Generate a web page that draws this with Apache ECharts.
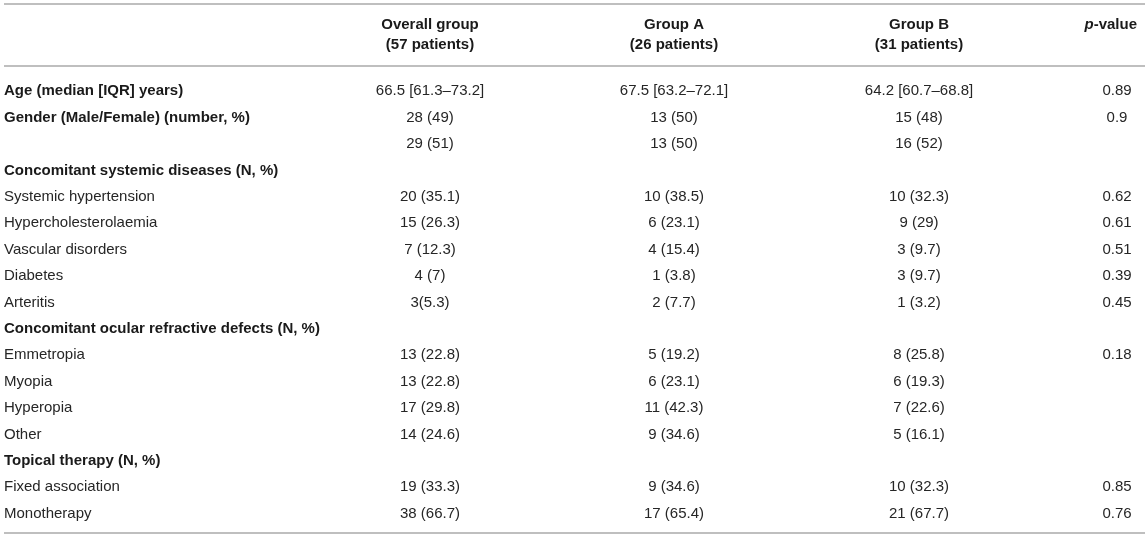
<!DOCTYPE html>
<html>
<head>
<meta charset="utf-8">
<script src="https://cdn.jsdelivr.net/npm/echarts@6/dist/echarts.min.js"></script>
<style>
  html, body { margin: 0; padding: 0; background: #fff; }
  #main { width: 1145px; height: 537px; }
</style>
</head>
<body>
<div id="main"></div>
<script>
// table contents
var rowLabels = [
    'Age (median [IQR] years)',
    'Gender (Male/Female) (number, %)',
    ' ',
    'Concomitant systemic diseases (N, %)',
    'Systemic hypertension',
    'Hypercholesterolaemia',
    'Vascular disorders',
    'Diabetes',
    'Arteritis',
    'Concomitant ocular refractive defects (N, %)',
    'Emmetropia',
    'Myopia',
    'Hyperopia',
    'Other',
    'Topical therapy (N, %)',
    'Fixed association',
    'Monotherapy'
];
var boldRows = [0, 1, 3, 9, 14];

var headers = ['Overall group\n(57 patients)', 'Group A\n(26 patients)', 'Group B\n(31 patients)', 'p-value'];

var overall = ['66.5 [61.3–73.2]', '28 (49)', '29 (51)', '', '20 (35.1)', '15 (26.3)', '7 (12.3)', '4 (7)', '3(5.3)',
    '', '13 (22.8)', '13 (22.8)', '17 (29.8)', '14 (24.6)', '', '19 (33.3)', '38 (66.7)'];
var groupA = ['67.5 [63.2–72.1]', '13 (50)', '13 (50)', '', '10 (38.5)', '6 (23.1)', '4 (15.4)', '1 (3.8)', '2 (7.7)',
    '', '5 (19.2)', '6 (23.1)', '11 (42.3)', '9 (34.6)', '', '9 (34.6)', '17 (65.4)'];
var groupB = ['64.2 [60.7–68.8]', '15 (48)', '16 (52)', '', '10 (32.3)', '9 (29)', '3 (9.7)', '3 (9.7)', '1 (3.2)',
    '', '8 (25.8)', '6 (19.3)', '7 (22.6)', '5 (16.1)', '', '10 (32.3)', '21 (67.7)'];
var pValues = ['0.89', '0.9', '', '', '0.62', '0.61', '0.51', '0.39', '0.45',
    '', '0.18', '', '', '', '', '0.85', '0.76'];

// layout: column centres on a 0..1145 x scale
var colX = [430, 674, 919, 1117];
var font = '"Liberation Sans", Arial, Helvetica, sans-serif';
var textColor = '#262626';
var boldColor = '#1a1a1a';

function cells(values, x) {
    var out = [];
    for (var i = 0; i < values.length; i++) {
        if (values[i] !== '') out.push({ name: values[i], value: [x, i] });
    }
    return out;
}

function colSeries(name, values, x) {
    return {
        name: name,
        type: 'scatter',
        symbolSize: 0,
        silent: true,
        itemStyle: { opacity: 1 },
        data: cells(values, x),
        label: {
            show: true,
            position: 'inside',
            formatter: '{b}',
            fontFamily: font,
            fontSize: 15,
            color: textColor
        }
    };
}

function headText(i) {
    return {
        type: 'text', x: colX[i], y: 35,
        style: { text: headers[i], font: 'bold 15px ' + font, fill: boldColor, align: 'center', verticalAlign: 'middle', lineHeight: 20 }
    };
}

function rule(y) {
    return { type: 'line', shape: { x1: 4, y1: y, x2: 1145, y2: y }, style: { stroke: '#aaa', lineWidth: 1.5 } };
}

var myChart = echarts.init(document.getElementById('main'));
myChart.setOption({
    animation: false,
    backgroundColor: '#fff',
    grid: { left: 0, right: 0, top: 78, bottom: 10.2 },
    xAxis: { type: 'value', min: 0, max: 1145, show: false },
    yAxis: {
        type: 'category',
        inverse: true,
        data: rowLabels,
        axisLine: { show: false },
        axisTick: { show: false },
        splitLine: { show: false },
        axisLabel: {
            interval: 0,
            align: 'left',
            margin: -4,
            fontFamily: font,
            fontSize: 15,
            formatter: function (value, index) {
                return boldRows.indexOf(index) >= 0 ? '{b|' + value + '}' : '{n|' + value + '}';
            },
            rich: {
                b: { fontFamily: font, fontSize: 15, fontWeight: 'bold', color: boldColor },
                n: { fontFamily: font, fontSize: 15, color: textColor }
            }
        }
    },
    graphic: [
        rule(4),
        rule(66),
        rule(533),
        headText(0),
        headText(1),
        headText(2),
        {
            type: 'text', x: 1137, y: 25,
            style: {
                text: '{i|p}{b|-value}',
                align: 'right', verticalAlign: 'middle',
                rich: {
                    i: { fontFamily: font, fontSize: 15, fontWeight: 'bold', fontStyle: 'italic', fill: boldColor },
                    b: { fontFamily: font, fontSize: 15, fontWeight: 'bold', fill: boldColor }
                }
            }
        }
    ],
    series: [
        colSeries('Overall group', overall, colX[0]),
        colSeries('Group A', groupA, colX[1]),
        colSeries('Group B', groupB, colX[2]),
        colSeries('p-value', pValues, colX[3])
    ]
});
</script>
</body>
</html>
